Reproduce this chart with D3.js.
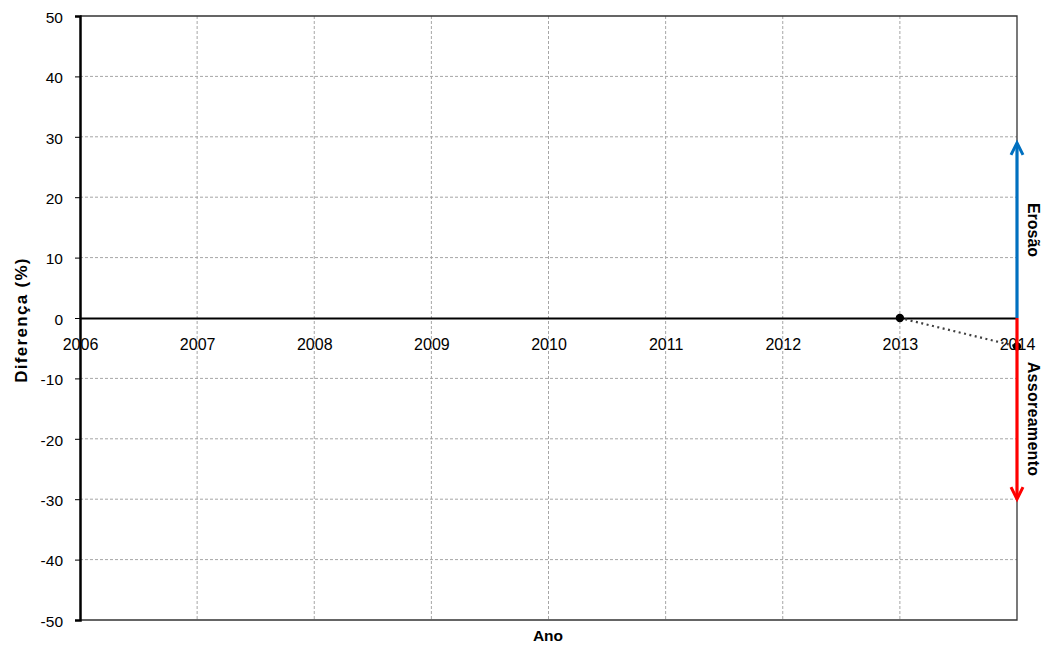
<!DOCTYPE html>
<html><head><meta charset="utf-8">
<script src="https://cdn.jsdelivr.net/npm/d3@7"></script>
<style>body{margin:0;background:#fff;}svg{display:block;font-family:"Liberation Sans",Arial,sans-serif;}</style>
</head><body><svg id="c" width="1049" height="648"></svg>
<script>
const years = [2006,2007,2008,2009,2010,2011,2012,2013,2014];
const yTicks = [-50,-40,-30,-20,-10,0,10,20,30,40,50];
const seriesYears = [2013, 2014];
const seriesValues = [0, -4.7];
const erosaoArrow = [0, 29];
const assoreamentoArrow = [0, -30];

const svg = d3.select("#c");
const FONT = '"Liberation Sans",Arial,sans-serif';
const L = 80, R = 1017, T = 16, B = 620;
const x = d3.scaleLinear().domain([2006, 2014]).range([L, R]);
const y = d3.scaleLinear().domain([-50, 50]).range([B, T]);

// gridlines
svg.append("g").selectAll("line").data(yTicks.filter(v => v !== 0 && v !== 50 && v !== -50)).join("line")
  .attr("x1", L).attr("x2", R).attr("y1", d => y(d)).attr("y2", d => y(d))
  .attr("stroke", "#a6a6a6").attr("stroke-width", 1).attr("stroke-dasharray", "3,2");
svg.append("g").selectAll("line").data(years.slice(1, -1)).join("line")
  .attr("x1", d => x(d)).attr("x2", d => x(d)).attr("y1", T).attr("y2", B)
  .attr("stroke", "#a6a6a6").attr("stroke-width", 1).attr("stroke-dasharray", "3,2");

// border (top, right, bottom)
svg.append("path").attr("d", `M${L},${T}H${R}V${B}H${L}`).attr("fill", "none")
  .attr("stroke", "#333").attr("stroke-width", 1.3);

// y axis
const yAxis = d3.axisLeft(y).tickValues(yTicks).tickSize(5).tickFormat(d => String(d));
const ya = svg.append("g").attr("transform", `translate(${L},0)`).call(yAxis);
ya.select(".domain").attr("stroke", "#000").attr("stroke-width", 2.5);
ya.selectAll(".tick line").attr("stroke", "#000").attr("stroke-width", 1);
ya.selectAll(".tick text").attr("font-size", 15.5).attr("fill", "#000").attr("x", -17)
  .attr("dy", "0.4em").attr("font-family", FONT);

// x axis at 0
const xAxis = d3.axisBottom(x).tickValues(years).tickSize(0).tickFormat(d => String(d));
const xa = svg.append("g").attr("transform", `translate(0,${y(0)})`).call(xAxis);
xa.select(".domain").attr("stroke", "#000").attr("stroke-width", 2.2);
xa.selectAll(".tick text").attr("font-size", 16).attr("fill", "#000").attr("dy", "0").attr("y", 32)
  .attr("font-family", FONT);

// series
const pts = seriesYears.map((yr, i) => [yr, seriesValues[i]]);
svg.append("path").datum(pts)
  .attr("d", d3.line().x(d => x(d[0])).y(d => y(d[1])))
  .attr("fill", "none").attr("stroke", "#404040").attr("stroke-width", 2.2).attr("stroke-dasharray", "2,3.5");
svg.append("g").selectAll("circle").data(pts).join("circle")
  .attr("cx", d => x(d[0])).attr("cy", d => y(d[1])).attr("r", 4.2).attr("fill", "#000");

// arrows
function arrow(vals, color, dir) {
  const x0 = x(2014);
  const y0 = y(vals[0]), y1 = y(vals[1]);
  svg.append("line").attr("x1", x0).attr("x2", x0).attr("y1", y0).attr("y2", y1 + dir * 1)
    .attr("stroke", color).attr("stroke-width", 3.2);
  const h = 12 * dir, w = 6;
  svg.append("path").attr("d", `M${x0 - w},${y1 + h}L${x0},${y1}L${x0 + w},${y1 + h}`)
    .attr("fill", "none").attr("stroke", color).attr("stroke-width", 3).attr("stroke-linejoin", "miter");
}
arrow(erosaoArrow, "#0070c0", 1);
arrow(assoreamentoArrow, "#ff0000", -1);

// side labels
svg.append("text").attr("transform", `translate(1028,230) rotate(90)`)
  .attr("text-anchor", "middle").attr("font-size", 16).attr("font-weight", "bold").text("Erosão");
svg.append("text").attr("transform", `translate(1028,419) rotate(90)`)
  .attr("text-anchor", "middle").attr("font-size", 16).attr("font-weight", "bold")
  .attr("letter-spacing", 0.3).text("Assoreamento");

// axis titles
svg.append("text").attr("transform", `translate(27,${y(0) + 2}) rotate(-90)`)
  .attr("text-anchor", "middle").attr("font-size", 17).attr("font-weight", "bold")
  .attr("letter-spacing", 1.3).text("Diferença (%)");
svg.append("text").attr("x", 548).attr("y", 641).attr("text-anchor", "middle")
  .attr("font-size", 15.5).attr("font-weight", "bold").text("Ano");
</script></body></html>
